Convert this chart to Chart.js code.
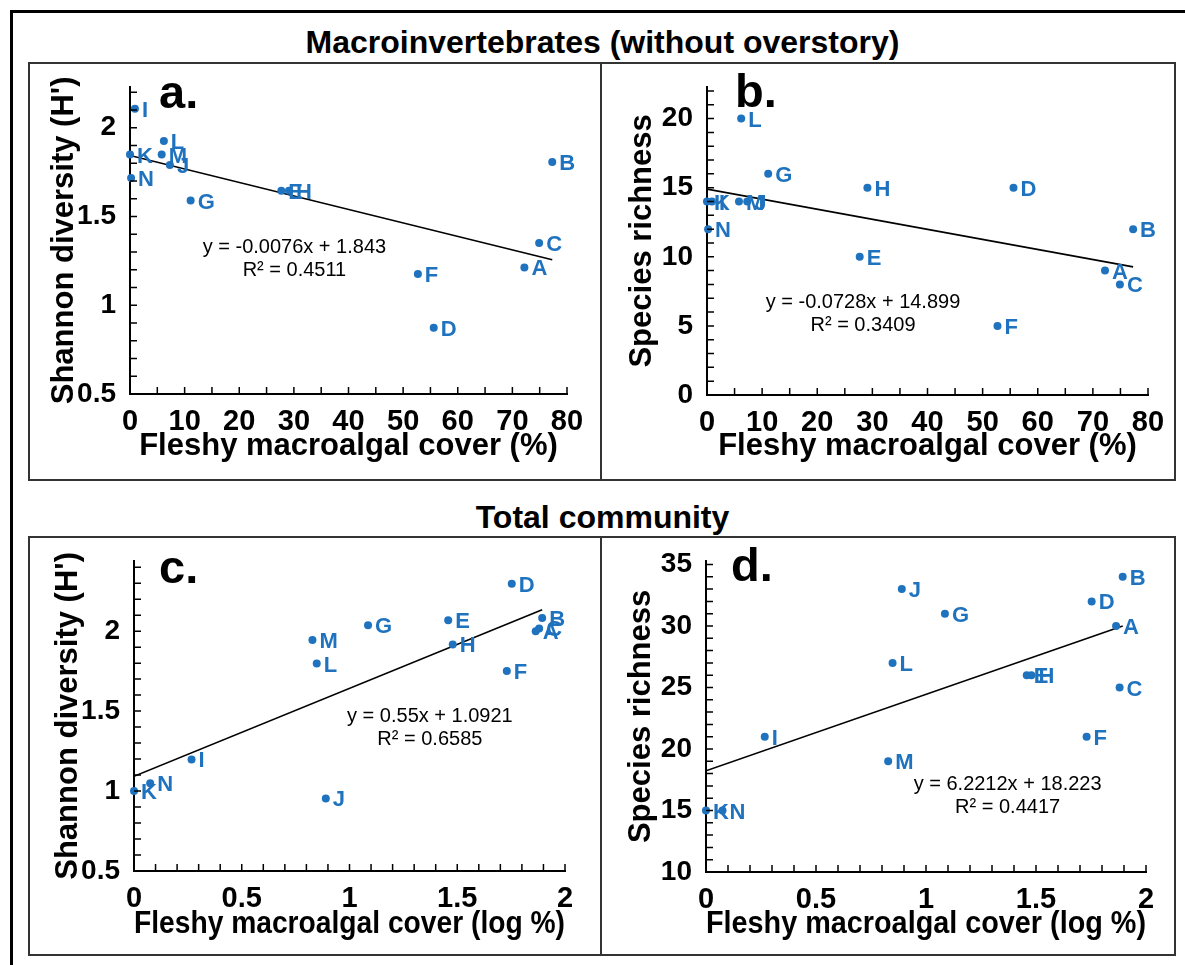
<!DOCTYPE html>
<html>
<head>
<meta charset="utf-8">
<script src="https://cdn.jsdelivr.net/npm/chart.js@4.4.1/dist/chart.umd.min.js"></script>
<style>
  body { margin: 0; background: #fff; width: 1185px; height: 965px; position: relative; overflow: hidden; font-family: "Liberation Sans", Arial, sans-serif; }
  .frame { position: absolute; left: 10px; top: 10px; width: 1200px; height: 1000px; border-left: 3px solid #000; border-top: 3px solid #000; }
  .box { position: absolute; border: 2px solid #333; box-sizing: border-box; }
  canvas { position: absolute; }
  .title { position: absolute; left: 10px; width: 1185px; text-align: center; font-weight: bold; font-size: 32px; line-height: 36px; }
</style>
</head>
<body>
<div class="frame"></div>
<div class="title" style="top:24px">Macroinvertebrates (without overstory)</div>
<div class="title" style="top:499px">Total community</div>
<div class="box" style="left:28px;top:62px;width:574px;height:419px"></div>
<div class="box" style="left:600px;top:62px;width:576px;height:419px"></div>
<div class="box" style="left:28px;top:536px;width:574px;height:420px"></div>
<div class="box" style="left:600px;top:536px;width:576px;height:420px"></div>
<canvas id="chartA" width="570" height="415" style="left:30px;top:64px"></canvas>
<canvas id="chartB" width="572" height="415" style="left:602px;top:64px"></canvas>
<canvas id="chartC" width="570" height="414" style="left:30px;top:538px"></canvas>
<canvas id="chartD" width="572" height="414" style="left:602px;top:538px"></canvas>
<script>
// Sites and values
const sites = ['A', 'B', 'C', 'D', 'E', 'F', 'G', 'H', 'I', 'J', 'K', 'L', 'M', 'N'];
const coverPct = [72.2, 77.3, 74.9, 55.6, 27.7, 52.7, 11.1, 29.1, 0.9, 7.3, 0, 6.2, 5.8, 0.2];
const coverLog = [1.864, 1.894, 1.880, 1.753, 1.458, 1.730, 1.086, 1.479, 0.267, 0.890, 0, 0.848, 0.828, 0.075];
const shannonMacro = [1.213, 1.807, 1.35, 0.873, 1.645, 1.176, 1.59, 1.645, 2.107, 1.79, 1.849, 1.925, 1.849, 1.716];
const richnessMacro = [9, 12, 8, 15, 10, 5, 16, 15, 14, 14, 14, 20, 14, 12];
const shannonTotal = [2.0, 2.083, 2.017, 2.296, 2.068, 1.751, 2.037, 1.917, 1.198, 0.954, 1.0, 1.797, 1.944, 1.049];
const richnessTotal = [30, 34, 25, 32, 26, 21, 31, 26, 21, 33, 15, 27, 19, 15];

// Trendline coefficients [slope, intercept] and equation text as printed
const fitA = [-0.0076, 1.843];
const fitB = [-0.0728, 14.899];
const fitC = [0.55, 1.0921];
const fitD = [6.2212, 18.223];
const eqText = {
  a: ['y = -0.0076x + 1.843', 'R² = 0.4511'],
  b: ['y = -0.0728x + 14.899', 'R² = 0.3409'],
  c: ['y = 0.55x + 1.0921', 'R² = 0.6585'],
  d: ['y = 6.2212x + 18.223', 'R² = 0.4417']
};

const BLUE = '#1f72bd';
const FONT = '"Liberation Sans", Arial, sans-serif';
Chart.defaults.font.family = FONT;
Chart.defaults.color = '#000';

// inward ticks, point labels, regression text, panel letter
const panelDecor = {
  id: 'panelDecor',
  afterDatasetsDraw(chart, args, opts) {
    const { ctx, chartArea, scales: { x, y } } = chart;
    ctx.save();
    ctx.strokeStyle = '#000';
    ctx.lineWidth = 1.5;
    ctx.beginPath();
    const nx = Math.round((x.max - x.min) / opts.xMinor);
    for (let i = 1; i <= nx; i++) {
      const px = x.getPixelForValue(x.min + i * opts.xMinor);
      ctx.moveTo(px, chartArea.bottom);
      ctx.lineTo(px, chartArea.bottom - 7);
    }
    const ny = Math.floor((y.max - y.min) / opts.yMinor + 1e-6);
    for (let i = 1; i <= ny; i++) {
      const py = y.getPixelForValue(y.min + i * opts.yMinor);
      ctx.moveTo(chartArea.left, py);
      ctx.lineTo(chartArea.left + 7, py);
    }
    ctx.stroke();

    // site labels
    const pts = chart.getDatasetMeta(0).data;
    ctx.fillStyle = BLUE;
    ctx.font = 'bold 22px ' + FONT;
    ctx.textBaseline = 'middle';
    ctx.textAlign = 'left';
    pts.forEach((p, i) => ctx.fillText(sites[i], p.x + 7, p.y + 2));

    // regression equation
    ctx.fillStyle = '#000';
    ctx.font = '20px ' + FONT;
    ctx.textAlign = 'center';
    const ex = x.getPixelForValue(opts.eqX);
    const ey = y.getPixelForValue(opts.eqY);
    ctx.fillText(opts.eq[0], ex, ey);
    ctx.fillText(opts.eq[1], ex, ey + 23);

    // panel letter
    ctx.font = 'bold 47px ' + FONT;
    ctx.textAlign = 'left';
    ctx.textBaseline = 'alphabetic';
    ctx.fillText(opts.letter, chartArea.left + opts.letterDx, chartArea.top + opts.letterDy);
    ctx.restore();
  }
};

const fmt = v => String(+v.toFixed(2));

function makePanel(id, p) {
  const pts = p.xs.map((v, i) => ({ x: v, y: p.ys[i] }));
  const xEnd = Math.max(...p.xs);
  const trend = [{ x: 0, y: p.fit[1] }, { x: xEnd, y: p.fit[0] * xEnd + p.fit[1] }];
  return new Chart(document.getElementById(id), {
    type: 'scatter',
    data: {
      datasets: [
        { data: pts, backgroundColor: BLUE, borderWidth: 0, pointRadius: 4, clip: false },
        { type: 'line', data: trend, borderColor: '#000', borderWidth: 1.6, pointRadius: 0, fill: false }
      ]
    },
    options: {
      responsive: false,
      animation: false,
      layout: { padding: { left: 0, right: p.padRight, top: p.padTop, bottom: 0 } },
      plugins: {
        legend: { display: false },
        tooltip: { enabled: false },
        panelDecor: {
          xMinor: p.xMinor, yMinor: p.yMinor, eq: p.eq, eqX: p.eqX, eqY: p.eqY,
          letter: p.letter, letterDx: p.letterDx, letterDy: p.letterDy
        }
      },
      scales: {
        x: {
          type: 'linear', position: 'bottom', min: p.xMin, max: p.xMax,
          afterFit: s => { s.height = p.xHeight; },
          grid: { display: false },
          border: { display: true, color: '#000', width: 2 },
          ticks: { stepSize: p.xStep, includeBounds: false, maxRotation: 0, padding: 3, color: '#000', font: { size: 29, weight: 'bold' }, callback: fmt },
          title: { display: true, text: p.xTitle, color: '#000', font: { size: 31, weight: 'bold' }, padding: { top: 0, bottom: p.xTitlePad } }
        },
        y: {
          type: 'linear', min: p.yMin, max: p.yMax,
          afterFit: s => { s.width = p.yWidth; },
          grid: { display: false },
          border: { display: true, color: '#000', width: 2 },
          ticks: { stepSize: p.yStep, includeBounds: false, padding: 6, color: '#000', font: { size: 28, weight: 'bold' }, callback: fmt },
          title: { display: true, text: p.yTitle, color: '#000', font: { size: 31, weight: 'bold' }, padding: { top: p.yTitlePad, bottom: 0 } }
        }
      }
    },
    plugins: [panelDecor]
  });
}

makePanel('chartA', {
  xs: coverPct, ys: shannonMacro, fit: fitA, eq: eqText.a, eqX: 30.1, eqY: 1.327,
  letter: 'a.', letterDx: 29, letterDy: 21,
  xMin: 0, xMax: 80, xStep: 10, xMinor: 5, yMin: 0.5, yMax: 2.23, yStep: 0.5, yMinor: 0.1,
  xTitle: 'Fleshy macroalgal cover (%)', yTitle: "Shannon diversity (H')",
  padRight: 33, padTop: 21, xHeight: 85, yWidth: 100, xTitlePad: 14, yTitlePad: 16
});

makePanel('chartB', {
  xs: coverPct, ys: richnessMacro, fit: fitB, eq: eqText.b, eqX: 28.3, eqY: 6.7,
  letter: 'b.', letterDx: 28, letterDy: 20,
  xMin: 0, xMax: 80, xStep: 10, xMinor: 5, yMin: 0, yMax: 22.3, yStep: 5, yMinor: 1,
  xTitle: 'Fleshy macroalgal cover (%)', yTitle: 'Species richness',
  padRight: 26, padTop: 21, xHeight: 84, yWidth: 105, xTitlePad: 14, yTitlePad: 22
});

makePanel('chartC', {
  xs: coverLog, ys: shannonTotal, fit: fitC, eq: eqText.c, eqX: 1.373, eqY: 1.468,
  letter: 'c.', letterDx: 25, letterDy: 22,
  xMin: 0, xMax: 2, xStep: 0.5, xMinor: 0.1, yMin: 0.5, yMax: 2.44, yStep: 0.5, yMinor: 0.1,
  xTitle: 'Fleshy macroalgal cover (log %)', yTitle: "Shannon diversity (H')",
  padRight: 35, padTop: 20, xHeight: 81, yWidth: 104, xTitlePad: 9, yTitlePad: 20
});

makePanel('chartD', {
  xs: coverLog, ys: richnessTotal, fit: fitD, eq: eqText.d, eqX: 1.371, eqY: 17.1,
  letter: 'd.', letterDx: 25, letterDy: 20,
  xMin: 0, xMax: 2, xStep: 0.5, xMinor: 0.1, yMin: 10, yMax: 35.3, yStep: 5, yMinor: 1,
  xTitle: 'Fleshy macroalgal cover (log %)', yTitle: 'Species richness',
  padRight: 28, padTop: 22, xHeight: 80, yWidth: 104, xTitlePad: 9, yTitlePad: 21
});
</script>
</body>
</html>
